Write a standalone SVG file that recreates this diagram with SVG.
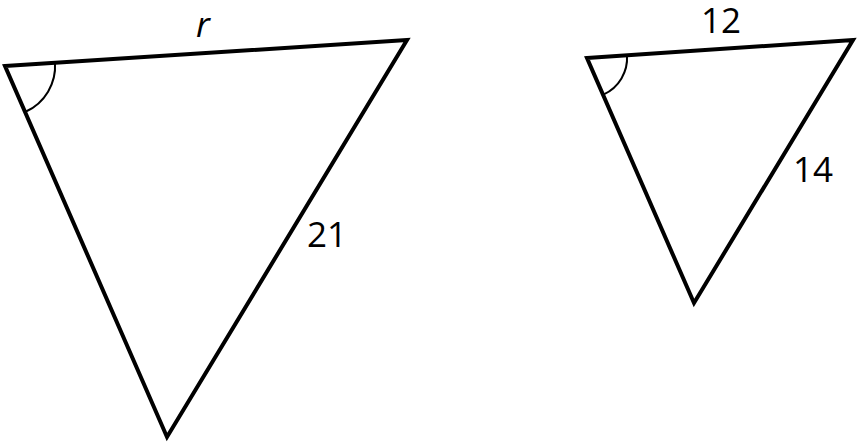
<svg xmlns="http://www.w3.org/2000/svg" width="861" height="443" viewBox="0 0 861 443">
<style>
.tri{fill:none;stroke:#000;stroke-width:4;stroke-linejoin:miter}
.arc{fill:none;stroke:#000;stroke-width:2}
.lbl{font-family:"Open Sans","DejaVu Sans",sans-serif;font-size:35px;fill:#000}
</style>
<rect width="861" height="443" fill="#fff"/>
<g id="big-triangle">
<polygon class="tri" points="5,66 407,40 167,437"/>
<path class="arc" d="M 55,62.8 A 50 50 0 0 1 26,111.5"/>
</g>
<g id="small-triangle">
<polygon class="tri" points="587,58 853,40 694,303"/>
<path class="arc" d="M 627,55.3 A 40 40 0 0 1 603.8,94.3"/>
</g>
<g id="labels">
<text class="lbl" x="196" y="37" font-style="italic">r</text>
<text class="lbl" x="307" y="247">21</text>
<text class="lbl" x="701" y="33">12</text>
<text class="lbl" x="793" y="182">14</text>
</g>
</svg>
